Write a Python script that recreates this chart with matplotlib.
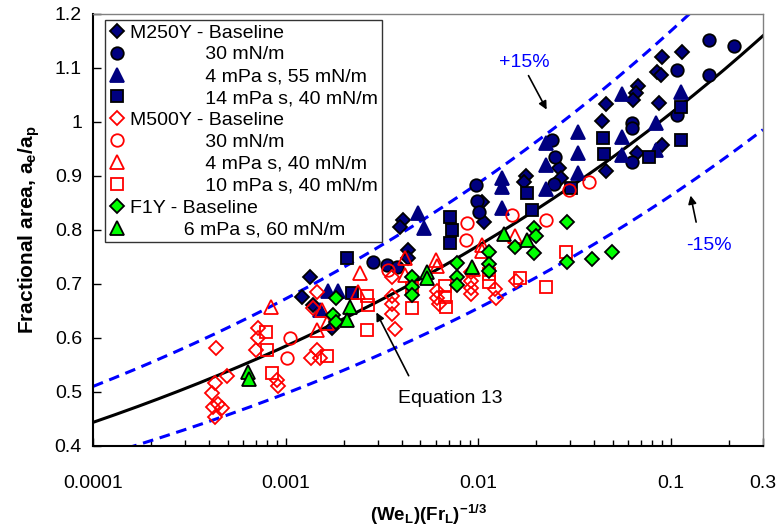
import numpy as np
import matplotlib
matplotlib.use("Agg")
import matplotlib.pyplot as plt
from matplotlib.lines import Line2D
from matplotlib.ticker import LogLocator, NullFormatter

plt.rcParams['font.family'] = ['Liberation Sans', 'DejaVu Sans']
plt.rcParams['mathtext.fontset'] = 'custom'
plt.rcParams['mathtext.rm'] = 'Liberation Sans:bold'
plt.rcParams['mathtext.it'] = 'Liberation Sans:bold'
plt.rcParams['mathtext.default'] = 'rm'

# M250Y
m250_base_x = [0.00133, 0.00121, 0.00138, 0.00173, 0.00404, 0.00390, 0.00429, 0.00429, 0.0104, 0.0107,
               0.0177, 0.0173, 0.0263, 0.0269, 0.0460, 0.0439, 0.0675, 0.0659, 0.0635, 0.0460,
               0.0898, 0.114, 0.0846, 0.0887, 0.0866, 0.0898, 0.0667]
m250_base_y = [0.713, 0.676, 0.661, 0.619, 0.819, 0.806, 0.763, 0.748, 0.852, 0.815,
               0.900, 0.889, 0.915, 0.896, 1.033, 1.002, 1.067, 1.054, 1.041, 0.909,
               1.120, 1.130, 1.093, 1.087, 1.035, 0.957, 0.943]
m250_30_x = [0.00283, 0.00334, 0.00380, 0.00977, 0.00989, 0.0101, 0.0242, 0.0251, 0.0248,
             0.0628, 0.0628, 0.0628, 0.107, 0.107, 0.157, 0.212, 0.157]
m250_30_y = [0.741, 0.735, 0.731, 0.883, 0.854, 0.833, 0.967, 0.935, 0.885,
             0.998, 0.989, 0.926, 1.096, 1.013, 1.152, 1.141, 1.087]
m250_4_x = [0.00165, 0.00186, 0.00150, 0.00483, 0.00519, 0.0132, 0.0132, 0.0132, 0.0225, 0.0225,
            0.0225, 0.0330, 0.0330, 0.0330, 0.0557, 0.0557, 0.0557, 0.0836, 0.0836, 0.113]
m250_4_y = [0.687, 0.687, 0.652, 0.831, 0.804, 0.896, 0.880, 0.841, 0.961, 0.920,
            0.876, 0.981, 0.943, 0.906, 1.052, 0.972, 0.939, 0.998, 0.948, 1.056]
m250_14_x = [0.00207, 0.00220, 0.00708, 0.00733, 0.00708, 0.0179, 0.0190, 0.0303, 0.0444, 0.0449,
             0.0769, 0.113, 0.113]
m250_14_y = [0.748, 0.683, 0.824, 0.800, 0.776, 0.869, 0.837, 0.878, 0.970, 0.941,
             0.935, 1.028, 0.967]

# M500Y
m500_base_x = [0.000434, 0.000429, 0.000414, 0.000494, 0.000419, 0.000466, 0.000429, 0.000444,
               0.000716, 0.000716, 0.000700, 0.000898, 0.000909, 0.00145, 0.00138, 0.00145, 0.00136,
               0.00150, 0.00354, 0.00358, 0.00358, 0.00358, 0.00367, 0.00613, 0.00613, 0.00628,
               0.00910, 0.00920, 0.00920, 0.00920, 0.0122, 0.0124, 0.0156]
m500_base_y = [0.581, 0.517, 0.498, 0.530, 0.472, 0.470, 0.454, 0.478,
               0.619, 0.600, 0.578, 0.522, 0.511, 0.685, 0.656, 0.578, 0.563,
               0.563, 0.713, 0.678, 0.663, 0.644, 0.617, 0.687, 0.674, 0.663,
               0.722, 0.706, 0.693, 0.681, 0.691, 0.674, 0.706]
m500_30_x = [0.00105, 0.00101, 0.00338, 0.00877, 0.00867, 0.0150, 0.0225, 0.0296, 0.0376]
m500_30_y = [0.600, 0.563, 0.726, 0.813, 0.781, 0.828, 0.819, 0.874, 0.889]
m500_4_x = [0.000837, 0.00242, 0.00236, 0.00154, 0.00163, 0.00145, 0.00414, 0.00414, 0.00606,
            0.00613, 0.0104, 0.0104, 0.0154, 0.00942]
m500_4_y = [0.657, 0.720, 0.685, 0.652, 0.628, 0.615, 0.748, 0.717, 0.744,
            0.733, 0.772, 0.761, 0.789, 0.728]
m500_10_x = [0.000788, 0.000797, 0.000846, 0.00163, 0.00263, 0.00266, 0.00263, 0.00450, 0.00450,
             0.00667, 0.00667, 0.00675, 0.0114, 0.0114, 0.0165, 0.0225, 0.0286]
m500_10_y = [0.611, 0.578, 0.535, 0.567, 0.678, 0.661, 0.615, 0.693, 0.656,
             0.696, 0.676, 0.657, 0.719, 0.704, 0.711, 0.694, 0.759]

# F1Y
f1_base_x = [0.00182, 0.00175, 0.00182, 0.00450, 0.00450, 0.00450, 0.00778, 0.00778, 0.00778,
             0.0114, 0.0114, 0.0114, 0.0154, 0.0195, 0.0200, 0.0195, 0.0289, 0.0289, 0.0390, 0.0495]
f1_base_y = [0.674, 0.643, 0.630, 0.713, 0.694, 0.680, 0.739, 0.713, 0.698,
             0.759, 0.737, 0.724, 0.769, 0.804, 0.789, 0.757, 0.815, 0.741, 0.746, 0.759]
f1_6_x = [0.000636, 0.000643, 0.00215, 0.00209, 0.00544, 0.00544, 0.00931, 0.0135, 0.0179]
f1_6_y = [0.537, 0.524, 0.657, 0.633, 0.722, 0.711, 0.731, 0.793, 0.781]

# Equation 13 and +/-15 % band
eq_coef = 1.34
eq_exp = 0.12
band = 0.15

x_ticks = [0.0001, 0.001, 0.01, 0.1, 0.3]
x_ticklabels = ['0.0001', '0.001', '0.01', '0.1', '0.3']
y_ticks = [0.4, 0.5, 0.6, 0.7, 0.8, 0.9, 1.0, 1.1, 1.2]
y_ticklabels = ['0.4', '0.5', '0.6', '0.7', '0.8', '0.9', '1', '1.1', '1.2']

navy = '#000080'
red = '#FF0000'
green = '#00FF00'

pad = ' ' * 14
series = [
    ('M250Y - Baseline', m250_base_x, m250_base_y, 'D', navy, 'black', 7.5),
    (pad + '30 mN/m', m250_30_x, m250_30_y, 'o', navy, 'black', 9),
    (pad + '4 mPa s, 55 mN/m', m250_4_x, m250_4_y, '^', navy, navy, 9.5),
    (pad + '14 mPa s, 40 mN/m', m250_14_x, m250_14_y, 's', navy, 'black', 8.5),
    ('M500Y - Baseline', m500_base_x, m500_base_y, 'D', 'none', red, 7.5),
    (pad + '30 mN/m', m500_30_x, m500_30_y, 'o', 'none', red, 9),
    (pad + '4 mPa s, 40 mN/m', m500_4_x, m500_4_y, '^', 'none', red, 9.5),
    (pad + '10 mPa s, 40 mN/m', m500_10_x, m500_10_y, 's', 'none', red, 8.5),
    ('F1Y - Baseline', f1_base_x, f1_base_y, 'D', green, 'black', 7.5),
    (' ' * 10 + '6 mPa s, 60 mN/m', f1_6_x, f1_6_y, '^', green, 'black', 9.5),
]

fig = plt.figure(figsize=(7.83, 5.32), dpi=100)
ax = fig.add_axes([0.1188, 0.1617, 0.8557, 0.812])

xf = np.logspace(-4, np.log10(0.3), 300)
yf = eq_coef * xf ** eq_exp
ax.plot(xf, yf, color='black', lw=2.2, zorder=2)
ax.plot(xf, yf * (1 + band), color='#0000FF', lw=2.2, ls=(0, (3.5, 2.2)), zorder=2)
ax.plot(xf, yf * (1 - band), color='#0000FF', lw=2.2, ls=(0, (3.5, 2.2)), zorder=2)

handles = []
labels = []
for lab, x, y, mk, fc, ec, ms in series:
    ax.plot(x, y, ls='none', marker=mk, ms=ms, mfc=fc, mec=ec, mew=1.3, zorder=3)
    handles.append(Line2D([], [], ls='none', marker=mk, ms=ms, mfc=fc, mec=ec, mew=1.3))
    labels.append(lab)

ax.set_xscale('log')
ax.set_xlim(0.0001, 0.3)
ax.set_ylim(0.4, 1.2)
ax.set_xticks(x_ticks)
ax.set_xticklabels(x_ticklabels)
ax.xaxis.set_minor_locator(LogLocator(base=10, subs=np.arange(2, 10)))
ax.xaxis.set_minor_formatter(NullFormatter())
ax.set_yticks(y_ticks)
ax.set_yticklabels(y_ticklabels)
ax.tick_params(axis='both', which='both', direction='in', labelsize=14, width=1)
ax.tick_params(axis='both', which='major', length=6)
ax.tick_params(axis='x', which='minor', length=4)
ax.tick_params(axis='x', pad=21)
ax.tick_params(axis='y', pad=8)

for s in ['left', 'bottom']:
    ax.spines[s].set_color('black')
    ax.spines[s].set_linewidth(1.5)
for s in ['top', 'right']:
    ax.spines[s].set_color('#808080')
    ax.spines[s].set_linewidth(1)

ax.set_xlabel('(We$_L$)(Fr$_L$)$^{-1/3}$', fontsize=13.5, fontweight='bold', labelpad=8)
ax.set_ylabel('Fractional area, a$_e$/a$_p$', fontsize=15, fontweight='bold', labelpad=9)

leg = ax.legend(handles, labels, loc='upper left', bbox_to_anchor=(0.018, 0.986),
                borderaxespad=0, fontsize=14, frameon=True, fancybox=False,
                edgecolor='black', labelspacing=0.22, handlelength=0.8,
                handletextpad=0.3, borderpad=0.2)
leg.get_frame().set_linewidth(1)

arrow = dict(arrowstyle='-|>', color='black', lw=1.2, mutation_scale=12)
ax.annotate('', xy=(0.421, 0.315), xytext=(0.473, 0.157), xycoords='axes fraction', arrowprops=arrow)
ax.text(0.533, 0.109, 'Equation 13', transform=ax.transAxes, ha='center', va='center', fontsize=14)
ax.annotate('', xy=(0.679, 0.773), xytext=(0.648, 0.863), xycoords='axes fraction', arrowprops=arrow)
ax.text(0.643, 0.887, '+15%', transform=ax.transAxes, ha='center', va='center', fontsize=14, color='#0000FF')
ax.annotate('', xy=(0.891, 0.586), xytext=(0.901, 0.512), xycoords='axes fraction', arrowprops=arrow)
ax.text(0.919, 0.463, '-15%', transform=ax.transAxes, ha='center', va='center', fontsize=14, color='#0000FF')

fig.savefig('out.png', dpi=100)
